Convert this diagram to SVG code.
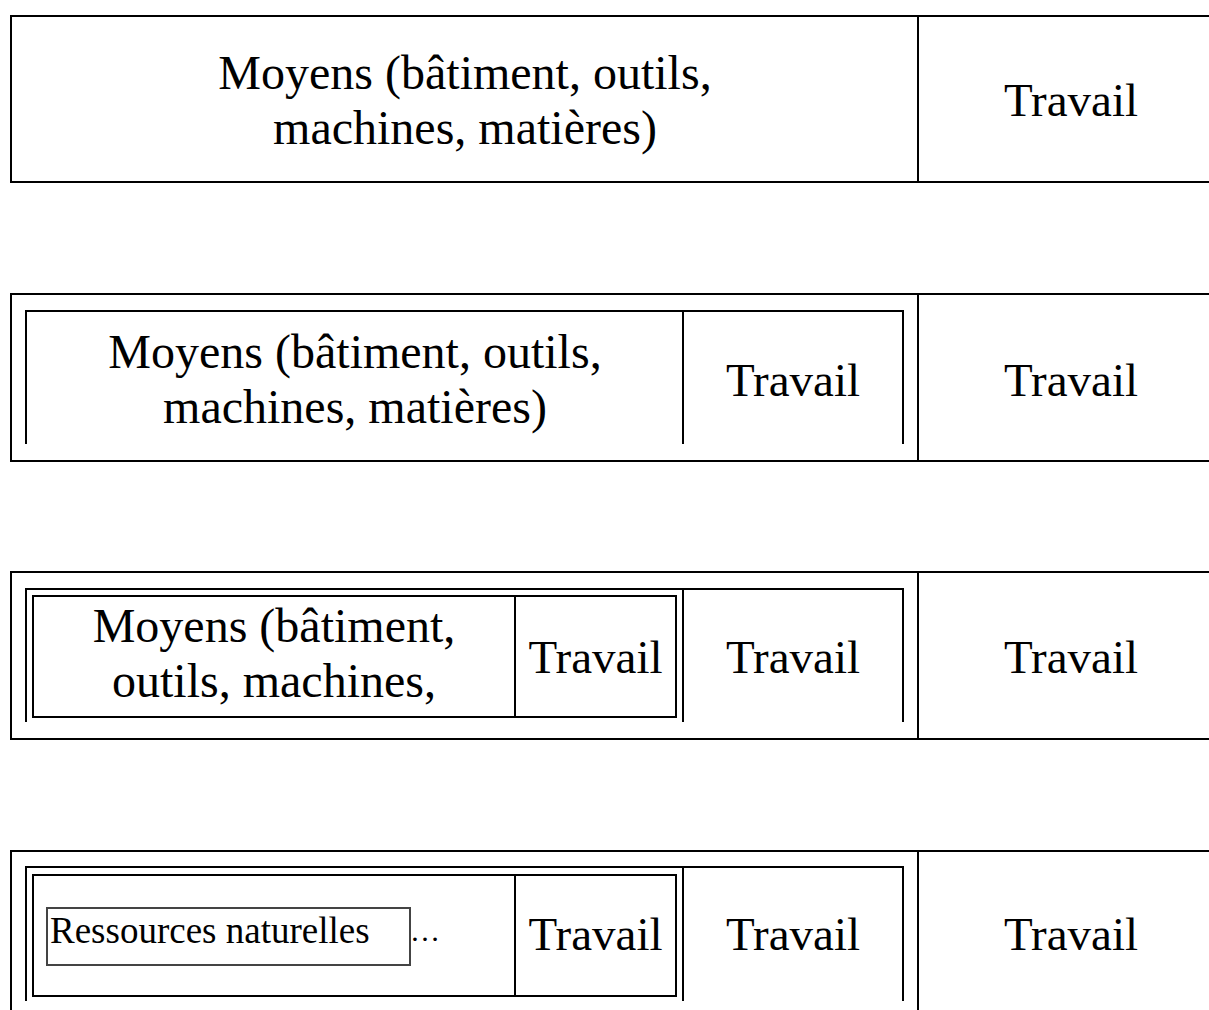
<svg xmlns="http://www.w3.org/2000/svg" width="1209" height="1010" viewBox="0 0 1209 1010">
<style>
.f{fill:none;stroke:#000;stroke-width:2}
.t{font-family:"Liberation Serif","Times New Roman",serif;font-size:47px;fill:#000;text-anchor:middle}
.m{font-size:48px}
.s{font-family:"Liberation Serif","Times New Roman",serif;font-size:37px;fill:#000}
.rb{fill:#fff;stroke:#444;stroke-width:2}
</style>
<rect width="1209" height="1010" fill="#fff"/>
<g id="row1">
<rect class="f" x="11" y="16" width="1220" height="166"/>
<line class="f" x1="918" y1="16" x2="918" y2="182"/>
<text class="t m" x="465" y="89">Moyens (bâtiment, outils,</text>
<text class="t m" x="465" y="144">machines, matières)</text>
<text class="t" x="1071" y="116">Travail</text>
</g>
<g id="row2">
<rect class="f" x="11" y="294" width="1220" height="167"/>
<line class="f" x1="918" y1="294" x2="918" y2="461"/>
<path class="f" d="M26,444 V311 H903 V444"/>
<line class="f" x1="683" y1="311" x2="683" y2="444"/>
<text class="t m" x="355" y="368">Moyens (bâtiment, outils,</text>
<text class="t m" x="355" y="423">machines, matières)</text>
<text class="t" x="793" y="396">Travail</text>
<text class="t" x="1071" y="396">Travail</text>
</g>
<g id="row3">
<rect class="f" x="11" y="572" width="1220" height="167"/>
<line class="f" x1="918" y1="572" x2="918" y2="739"/>
<path class="f" d="M26,722 V589 H903 V722"/>
<line class="f" x1="683" y1="589" x2="683" y2="722"/>
<rect class="f" x="33" y="596" width="643" height="121"/>
<line class="f" x1="515" y1="596" x2="515" y2="717"/>
<text class="t m" x="274" y="642">Moyens (bâtiment,</text>
<text class="t m" x="274" y="697">outils, machines,</text>
<text class="t" x="595.5" y="673">Travail</text>
<text class="t" x="793" y="673">Travail</text>
<text class="t" x="1071" y="673">Travail</text>
</g>
<g id="row4">
<rect class="f" x="11" y="851" width="1220" height="167"/>
<line class="f" x1="918" y1="851" x2="918" y2="1018"/>
<path class="f" d="M26,1001 V867 H903 V1001"/>
<line class="f" x1="683" y1="867" x2="683" y2="1001"/>
<rect class="f" x="33" y="875" width="643" height="121"/>
<line class="f" x1="515" y1="875" x2="515" y2="996"/>
<g id="ressources">
<rect class="rb" x="47" y="908" width="363" height="57"/>
<text class="s" x="50" y="943">Ressources naturelles</text>
</g>
<text class="s" x="410" y="941" style="font-size:30px">…</text>
<text class="t" x="595.5" y="950">Travail</text>
<text class="t" x="793" y="950">Travail</text>
<text class="t" x="1071" y="950">Travail</text>
</g>
</svg>
